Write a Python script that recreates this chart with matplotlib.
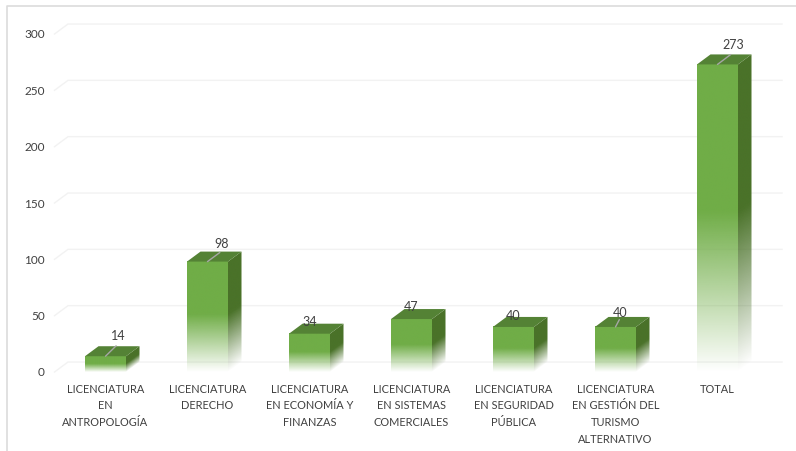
import numpy as np
import matplotlib
matplotlib.use('Agg')
import matplotlib.pyplot as plt
from matplotlib.colors import to_rgb
from matplotlib.patches import Polygon

categories = [
    'LICENCIATURA\nEN\nANTROPOLOGÍA',
    'LICENCIATURA\nDERECHO',
    'LICENCIATURA\nEN ECONOMÍA Y\nFINANZAS',
    'LICENCIATURA\nEN SISTEMAS\nCOMERCIALES',
    'LICENCIATURA\nEN SEGURIDAD\nPÚBLICA',
    'LICENCIATURA\nEN GESTIÓN DEL\nTURISMO\nALTERNATIVO',
    'TOTAL',
]
values = [14, 98, 34, 47, 40, 40, 273]
y_ticks = [0, 50, 100, 150, 200, 250, 300]

# label offsets in pixels from the top of each bar, as placed in the original
label_dx = [12.5, 14.5, 0, 0, 0, 4.5, 15.5]
label_dy = [20, 17.5, 12, 12, 11, 14, 19]
has_leader = [True, True, False, False, False, True, True]

W, H = 796, 451
LEFT, RIGHT, BASE, TOP = 54.5, 768.5, 372, 34
BAR_W = 41 / 102
DX = 13.5 / 102       # depth of the 3D box, x data units
DY = 10 / 1.127       # depth of the 3D box, y data units

FRONT = '#70ad47'
SIDE = '#4a7229'
ROOF = '#548235'
GRID = '#f2f2f2'
TEXT = '#404040'


def fade(f):
    # linear fade to white over the bottom half
    return np.clip(f / 0.52, 0, 1)


def face(ax, x0, x1, v, color, skew):
    xs = np.linspace(x0, x1, 60)
    ys = np.linspace(0, v + (DY if skew else 0), 400)
    xx, yy = np.meshgrid(xs, ys)
    base = (xx - x0) / DX * DY if skew else 0 * xx
    rgba = np.zeros(xx.shape + (4,))
    rgba[..., :3] = to_rgb(color)
    rgba[..., 3] = fade((yy - base) / v)
    im = ax.imshow(rgba, origin='lower', aspect='auto', zorder=3,
                   extent=(x0, x1, 0, ys[-1]), interpolation='bilinear')
    if skew:
        clip = Polygon([(x0, 0), (x1, DY), (x1, v + DY), (x0, v)], transform=ax.transData)
        im.set_clip_path(clip)


fig = plt.figure(figsize=(W / 100, H / 100), dpi=100)
plt.rcParams['font.family'] = ['Lato', 'DejaVu Sans']
ax = fig.add_axes([LEFT / W, 1 - BASE / H, (RIGHT - LEFT) / W, (BASE - TOP) / H])

for t in y_ticks:
    ax.plot([-0.5, -0.5 + DX, 6.5 + DX], [t, t + DY, t + DY], color=GRID, lw=1,
            clip_on=False, zorder=1)

for i, v in enumerate(values):
    x0, x1 = i - BAR_W / 2, i + BAR_W / 2
    face(ax, x0, x1, v, FRONT, False)
    face(ax, x1, x1 + DX, v, SIDE, True)
    ax.add_patch(Polygon([(x0, v), (x1, v), (x1 + DX, v + DY), (x0 + DX, v + DY)],
                         facecolor=ROOF, edgecolor='none', zorder=3, clip_on=False))
    if has_leader[i]:
        ax.annotate('', xy=(i, v), xytext=(label_dx[i] * 0.85, label_dy[i] * 0.52),
                    textcoords='offset pixels',
                    arrowprops=dict(arrowstyle='-', color='#a6a6a6', lw=1, shrinkA=0, shrinkB=0),
                    zorder=4)
    ax.annotate(str(v), xy=(i, v), xytext=(label_dx[i], label_dy[i]),
                textcoords='offset pixels', ha='center', va='center',
                fontsize=9, color=TEXT, zorder=5)

ax.set_xlim(-0.5, 6.5)
ax.set_ylim(0, 300)
ax.set_xticks(range(len(categories)))
ax.set_xticklabels(categories, fontsize=7.9, color=TEXT, linespacing=1.62)
ax.set_yticks(y_ticks)
ax.tick_params(axis='x', length=0, pad=8.5)
ax.tick_params(axis='y', length=0, pad=7, labelsize=8.5, labelcolor=TEXT)
ax.patch.set_alpha(0)
for s in ax.spines.values():
    s.set_visible(False)

# thin frame of the pasted chart
fig.add_artist(plt.Line2D([7.5 / W, 7.5 / W, 1], [0, 1 - 5.5 / H, 1 - 5.5 / H],
                          color='#dcdcdc', lw=1.2))

fig.savefig('out.png', dpi=100)
